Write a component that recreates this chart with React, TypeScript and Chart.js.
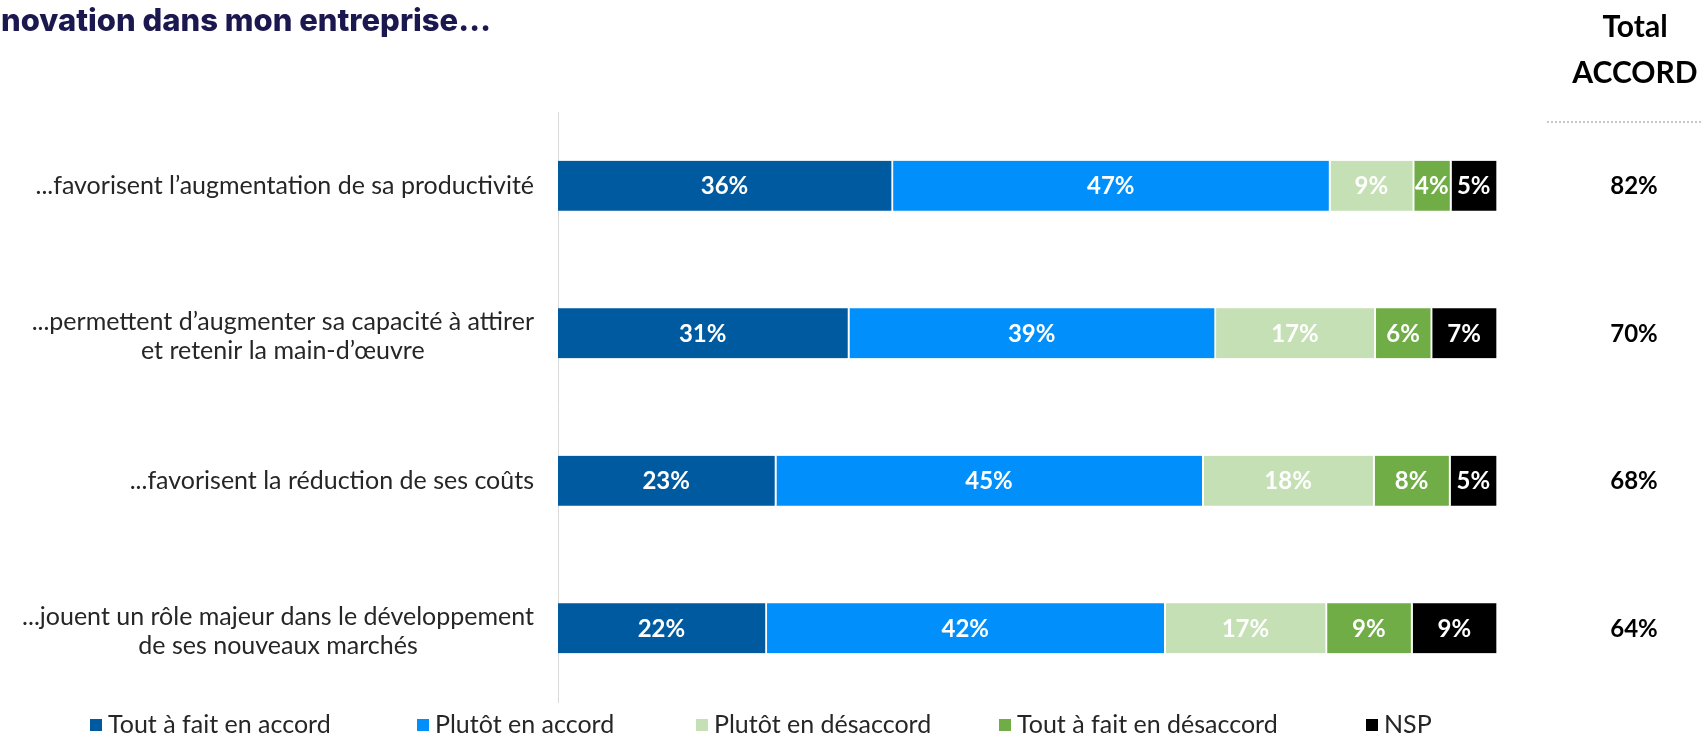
import React, { useEffect, useRef } from "react";
import { Chart, registerables } from "chart.js";

Chart.register(...registerables);

const categories: string[][] = [
  ["...favorisent l’augmentation de sa productivité"],
  ["...permettent d’augmenter sa capacité à attirer", "et retenir la main-d’œuvre"],
  ["...favorisent la réduction de ses coûts"],
  ["...jouent un rôle majeur dans le développement", "de ses nouveaux marchés"],
];

const seriesNames = [
  "Tout à fait en accord",
  "Plutôt en accord",
  "Plutôt en désaccord",
  "Tout à fait en désaccord",
  "NSP",
];
const seriesColors = ["#005AA0", "#008FFB", "#C5E0B4", "#70AD47", "#000000"];

const toutAFaitAccord = [36, 31, 23, 22];
const plutotAccord = [47, 39, 45, 42];
const plutotDesaccord = [9, 17, 18, 17];
const toutAFaitDesaccord = [4, 6, 8, 9];
const nsp = [5, 7, 5, 9];

const totalAccord = [82, 70, 68, 64];

const titleText = "L’innovation dans mon entreprise…";
const totalHeader = ["Total", "ACCORD"];

const FONT = "Lato, 'Open Sans', sans-serif";
const LEGEND_X = [90, 417, 696, 999, 1366];

export default function App() {
  const ref = useRef<HTMLCanvasElement | null>(null);

  useEffect(() => {
    const canvas = ref.current;
    if (!canvas) return;
    const series = [toutAFaitAccord, plutotAccord, plutotDesaccord, toutAFaitDesaccord, nsp];
    const rowSums = categories.map((_, i) => series.reduce((s, arr) => s + arr[i], 0));

    const overlay = {
      id: "overlay",
      afterDatasetsDraw(chart: any) {
        const ctx = chart.ctx;
        ctx.save();
        ctx.font = `bold 24px ${FONT}`;
        ctx.fillStyle = "#ffffff";
        ctx.textAlign = "center";
        ctx.textBaseline = "middle";
        chart.data.datasets.forEach((ds: any, di: number) => {
          const meta = chart.getDatasetMeta(di);
          meta.data.forEach((bar: any, i: number) => {
            const raw = series[di][i];
            const cx = (bar.x + bar.base) / 2 - 1;
            ctx.fillText(`${raw}%`, cx, bar.y + 1);
          });
        });
        ctx.restore();
      },
      afterDraw(chart: any) {
        const ctx = chart.ctx;
        const yScale = chart.scales.y;
        ctx.save();
        // title
        ctx.font = `800 31px Inter, sans-serif`;
        ctx.fillStyle = "#1B1850";
        ctx.textAlign = "right";
        ctx.textBaseline = "middle";
        ctx.fillText(titleText, 491, 22);

        // header
        ctx.font = `bold 30px ${FONT}`;
        ctx.fillStyle = "#000000";
        ctx.textAlign = "center";
        ctx.fillText(totalHeader[0], 1635, 27);
        ctx.fillText(totalHeader[1], 1635, 73);

        // dotted line
        ctx.strokeStyle = "#C8C8C8";
        ctx.lineWidth = 2;
        ctx.setLineDash([2, 2]);
        ctx.beginPath();
        ctx.moveTo(1547, 122);
        ctx.lineTo(1703, 122);
        ctx.stroke();
        ctx.setLineDash([]);

        // category labels and totals
        categories.forEach((lines, i) => {
          const yc = yScale.getPixelForValue(i);
          ctx.font = `25px ${FONT}`;
          ctx.fillStyle = "#262626";
          ctx.textAlign = "center";
          const maxW = Math.max(...lines.map((l) => ctx.measureText(l).width));
          const cx = 534 - maxW / 2;
          const lh = 29;
          const y0 = yc - ((lines.length - 1) * lh) / 2 + (lines.length > 1 ? 3 : 0);
          lines.forEach((l, k) => ctx.fillText(l, cx, y0 + k * lh));

          ctx.font = `bold 24px ${FONT}`;
          ctx.fillStyle = "#000000";
          ctx.fillText(`${totalAccord[i]}%`, 1634, yc + 1);
        });

        // legend
        ctx.font = `25px ${FONT}`;
        ctx.textAlign = "left";
        const ly = 725;
        seriesNames.forEach((name, i) => {
          const x = LEGEND_X[i];
          ctx.fillStyle = seriesColors[i];
          ctx.fillRect(x, ly - 6, 12, 12);
          ctx.fillStyle = "#262626";
          ctx.fillText(name, x + 18, ly);
        });
        ctx.restore();
      },
    };

    const chart = new Chart(canvas, {
      type: "bar",
      data: {
        labels: categories.map((c) => c.join(" ")),
        datasets: series.map((arr, di) => ({
          label: seriesNames[di],
          data: arr.map((v, i) => (v / rowSums[i]) * 100),
          backgroundColor: seriesColors[di],
          borderColor: "#ffffff",
          borderWidth: { top: 0, bottom: 0, left: 0, right: 2 },
          borderSkipped: false,
          barThickness: 50,
        })),
      },
      options: {
        indexAxis: "y",
        responsive: false,
        animation: false,
        events: [],
        layout: { padding: { left: 558, right: 205, top: 112, bottom: 33 } },
        plugins: { legend: { display: false }, tooltip: { enabled: false }, title: { display: false } },
        scales: {
          x: { stacked: true, min: 0, max: 100, display: false },
          y: {
            stacked: true,
            grid: { display: false },
            ticks: { display: false },
            border: { display: true, color: "#D9D9D9", width: 1 },
            afterFit: (s: any) => {
              s.width = 0;
            },
          },
        },
      },
      plugins: [overlay],
    } as any);

    return () => chart.destroy();
  }, []);

  return (
    <div style={{ position: "absolute", left: 0, top: 0, width: 1703, height: 735, background: "#fff" }}>
      <canvas ref={ref} width={1703} height={735} style={{ display: "block" }} />
    </div>
  );
}
